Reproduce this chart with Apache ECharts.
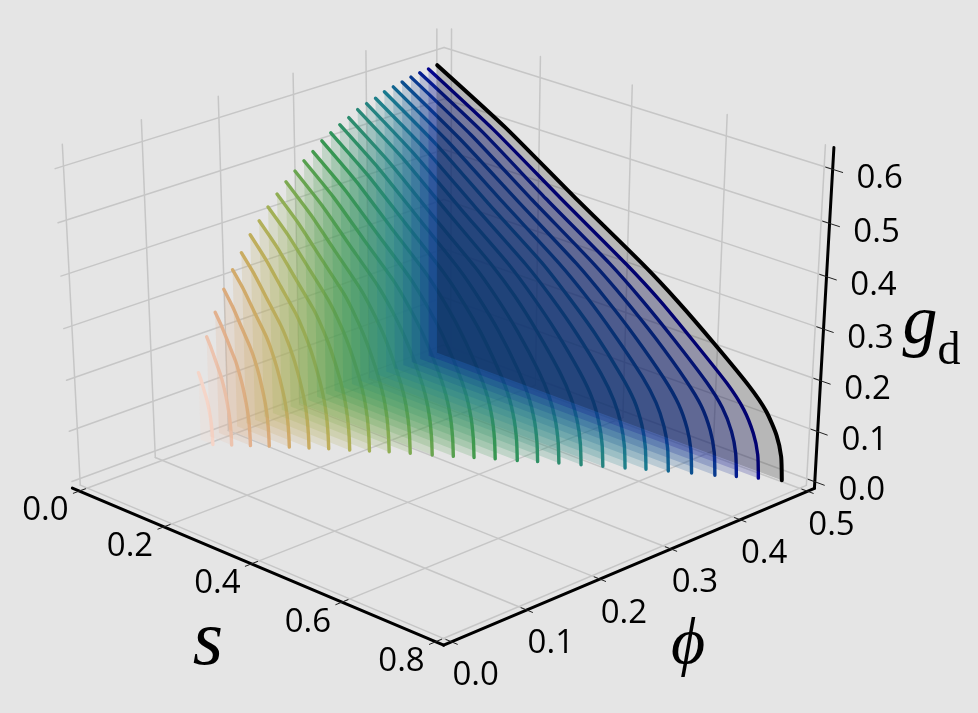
<!DOCTYPE html>
<html><head><meta charset="utf-8">
<style>html,body{margin:0;padding:0;background:#e5e5e5}#c{width:978px;height:713px}</style>
<script src="https://cdn.jsdelivr.net/npm/echarts@6/dist/echarts.min.js"></script></head>
<body><div id="c"></div>
<script>
const sTicks=[0,0.2,0.4,0.6,0.8];
const phiTicks=[0,0.1,0.2,0.3,0.4,0.5];
const gTicks=[0,0.1,0.2,0.3,0.4,0.5,0.6];
const sRange=[-0.017,0.817], phiRange=[-0.0104,0.5104], gRange=[-0.0133,0.64];
const phiValues=[0.1525,0.165,0.1775,0.19,0.2025,0.215,0.2275,0.24,0.2525,0.265,0.2775,0.29,0.3025,0.315,0.3275,0.34,0.3525,0.365,0.3775,0.39,0.4025,0.415,0.4275,0.44,0.4525,0.465,0.4775,0.49];
const sMaxValues=[0.029,0.052,0.075,0.098,0.124,0.149,0.174,0.202,0.227,0.252,0.280,0.310,0.338,0.365,0.393,0.423,0.449,0.477,0.507,0.536,0.566,0.593,0.623,0.655,0.687,0.715,0.744,0.776];
const sFractions=[0,0.2,0.4,0.6,0.7,0.8,0.9,0.95,0.98,0.995,1];
const gCurves=[
[.135,.122,.105,.089,.078,.065,.047,.034,.022,.010,0],
[.200,.180,.156,.132,.116,.096,.069,.051,.033,.015,0],
[.242,.218,.189,.160,.140,.116,.083,.062,.040,.018,0],
[.281,.253,.219,.185,.163,.135,.097,.072,.046,.021,0],
[.313,.282,.244,.207,.182,.150,.108,.080,.052,.023,0],
[.340,.306,.265,.224,.197,.163,.117,.087,.056,.026,0],
[.369,.332,.288,.244,.214,.177,.127,.094,.061,.028,0],
[.390,.351,.304,.257,.226,.187,.135,.099,.064,.029,0],
[.411,.370,.321,.271,.238,.197,.142,.105,.068,.031,0],
[.430,.386,.334,.282,.247,.204,.147,.109,.071,.032,0],
[.448,.401,.346,.291,.255,.211,.151,.112,.073,.034,0],
[.463,.414,.356,.298,.261,.215,.155,.115,.075,.035,0],
[.477,.426,.365,.305,.266,.219,.158,.117,.077,.036,0],
[.489,.436,.373,.310,.270,.222,.160,.119,.078,.037,0],
[.504,.448,.382,.317,.276,.226,.163,.122,.080,.039,0],
[.514,.456,.388,.320,.278,.228,.164,.123,.081,.040,0],
[.524,.464,.394,.324,.281,.230,.166,.124,.082,.040,0],
[.532,.470,.397,.326,.282,.230,.167,.125,.083,.041,0],
[.542,.478,.403,.329,.285,.231,.168,.126,.083,.042,0],
[.548,.482,.405,.330,.284,.231,.168,.127,.084,.043,0],
[.553,.486,.407,.330,.284,.231,.168,.126,.084,.043,0],
[.560,.491,.410,.332,.284,.231,.167,.127,.085,.044,0],
[.564,.493,.411,.331,.284,.229,.167,.126,.085,.045,0],
[.568,.495,.412,.330,.282,.228,.166,.126,.085,.045,0],
[.572,.498,.412,.329,.281,.227,.165,.126,.085,.045,0],
[.575,.500,.412,.328,.279,.224,.164,.125,.085,.045,0],
[.577,.500,.412,.326,.278,.222,.163,.124,.084,.046,0],
[.579,.501,.411,.324,.275,.220,.161,.123,.084,.046,0]
];
const curveColors=['#f5d5c8','#ecc3ae','#e2b18e','#dbab7c','#d2ab6c','#c9ac62','#bfae5c','#b2b05a','#a2b057','#90ae54','#7daa52','#6aa550','#57a04f','#459b4e','#389752','#32945c','#2f9065','#2d8c6e','#2a8878','#268380','#20808a','#1a7a8f','#126590','#0c4f8f','#093a8f','#051e8f','#03038c','#000000'];

const anchors=[[0,0,0,72,488],[1,0,0,444,645],[1,1,0,814,489],[0,1,1,444,27],[0,0,1,54,147],[1,1,1,834,147],[0,1,0,444,351]];
function solveCamera(){
  const A=[],b=[];
  anchors.forEach(([X,Y,Z,x,y])=>{
    A.push([X,Y,Z,1,0,0,0,0,-x*X,-x*Y,-x*Z]);b.push(x);
    A.push([0,0,0,0,X,Y,Z,1,-y*X,-y*Y,-y*Z]);b.push(y);
  });
  const n=11,M=[];
  for(let i=0;i<n;i++){M.push(new Array(n+1).fill(0));
    for(let j=0;j<n;j++)for(let r=0;r<A.length;r++)M[i][j]+=A[r][i]*A[r][j];
    for(let r=0;r<A.length;r++)M[i][n]+=A[r][i]*b[r];}
  for(let c=0;c<n;c++){let p=c;for(let r=c+1;r<n;r++)if(Math.abs(M[r][c])>Math.abs(M[p][c]))p=r;
    [M[c],M[p]]=[M[p],M[c]];
    for(let r=0;r<n;r++)if(r!==c){const f=M[r][c]/M[c][c];for(let k=c;k<=n;k++)M[r][k]-=f*M[c][k];}}
  return M.map((row,i)=>row[n]/row[i]);
}
const cam=solveCamera();
function project(s,phi,g){
  const X=(s-sRange[0])/(sRange[1]-sRange[0]),Y=(phi-phiRange[0])/(phiRange[1]-phiRange[0]),Z=(g-gRange[0])/(gRange[1]-gRange[0]);
  const w=cam[8]*X+cam[9]*Y+cam[10]*Z+1;
  return [(cam[0]*X+cam[1]*Y+cam[2]*Z+cam[3])/w,(cam[4]*X+cam[5]*Y+cam[6]*Z+cam[7])/w];
}
const series=[];
function seg(a,b,color,width,z){
  series.push({type:'line',data:[project(...a),project(...b)],showSymbol:false,silent:true,animation:false,clip:false,z:z||1,
    lineStyle:{color,width,cap:'round'}});
}
const [s0,s1]=sRange,[p0,p1]=phiRange,[g0,g1]=gRange;
const gridCol='#c6c6c6';
phiTicks.forEach(p=>{seg([s0,p,g0],[s0,p,g1],gridCol,1.5);seg([s0,p,g0],[s1,p,g0],gridCol,1.5);});
sTicks.forEach(s=>{seg([s,p1,g0],[s,p1,g1],gridCol,1.5);seg([s,p0,g0],[s,p1,g0],gridCol,1.5);});
gTicks.forEach(g=>{seg([s0,p0,g],[s0,p1,g],gridCol,1.5);seg([s0,p1,g],[s1,p1,g],gridCol,1.5);});

function renderPolygon(pts,color){
  return function(params,api){
    if(params.dataIndex!==0)return null;
    return {type:'polygon',shape:{points:pts.map(q=>api.coord(q))},style:{fill:color,opacity:0.2},silent:true};
  };
}
phiValues.forEach((phi,k)=>{
  const pts=sFractions.map((f,j)=>project(f*sMaxValues[k],phi,gCurves[k][j]));
  const poly=pts.concat([project(0,phi,0)]);
  series.push({type:'custom',coordinateSystem:'cartesian2d',data:poly,encode:{x:0,y:1},clip:false,silent:true,animation:false,z:10+2*k,
    renderItem:renderPolygon(poly,curveColors[k])});
  series.push({type:'line',data:pts,showSymbol:false,silent:true,animation:false,clip:false,z:11+2*k,smooth:0.2,
    lineStyle:{color:curveColors[k],width:k===27?4:3.4,cap:'round',join:'round'}});
});

seg([s0,p0,g0],[s1,p0,g0],'#000',3,90);
seg([s1,p0,g0],[s1,p1,g0],'#000',3,90);
seg([s1,p1,g0],[s1,p1,g1],'#000',3,90);
sTicks.forEach(s=>seg([s,p0-0.008,g0],[s,p0+0.008,g0],'#222',1,90));
phiTicks.forEach(p=>seg([s1-0.012,p,g0],[s1+0.012,p,g0],'#222',1,90));
gTicks.forEach(g=>seg([s1-0.014,p1,g],[s1+0.02,p1,g],'#222',1,90));

function labels(list,fn,dx,dy){
  series.push({type:'scatter',symbolSize:0,silent:true,animation:false,z:100,itemStyle:{opacity:1},
    data:list.map(t=>{const q=fn(t);return {value:[q[0]+dx,q[1]+dy],name:t.toFixed(1)};}),
    label:{show:true,position:'inside',formatter:'{b}',color:'#000',fontFamily:'Open Sans',fontSize:33,align:'center',verticalAlign:'middle'}});
}
labels(sTicks,t=>project(t,p0,g0),-34,20);
labels(phiTicks,t=>project(s1,t,g0),24,34);
labels(gTicks,t=>project(s1,p1,t),47,9);

const chart=echarts.init(document.getElementById('c'),null,{renderer:'canvas',width:978,height:713});
chart.setOption({
  backgroundColor:'#e5e5e5',animation:false,
  grid:{left:0,right:0,top:0,bottom:0},
  xAxis:{type:'value',min:0,max:978,show:false},
  yAxis:{type:'value',min:0,max:713,inverse:true,show:false},
  tooltip:{show:false},
  series,
  graphic:[
    {type:'text',x:208,y:643,z:200,style:{text:'s',fontFamily:'Liberation Serif',fontStyle:'italic',fontSize:78,fill:'#000',textAlign:'center',textVerticalAlign:'middle'}},
    {type:'text',x:688,y:646,z:200,style:{text:'\u03D5',fontFamily:'Liberation Serif',fontStyle:'italic',fontSize:66,fill:'#000',textAlign:'center',textVerticalAlign:'middle'}},
    {type:'text',x:920,y:325,z:200,style:{text:'g',fontFamily:'Liberation Serif',fontStyle:'italic',fontSize:70,fill:'#000',textAlign:'center',textVerticalAlign:'middle'}},
    {type:'text',x:949,y:352,z:200,style:{text:'d',fontFamily:'Liberation Serif',fontSize:46,fill:'#000',textAlign:'center',textVerticalAlign:'middle'}}
  ]
});
</script></body></html>
